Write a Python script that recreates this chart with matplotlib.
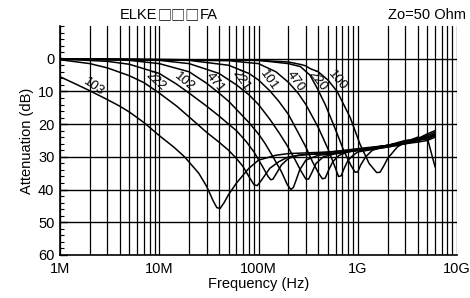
import matplotlib
matplotlib.use("Agg")
import matplotlib.pyplot as plt
import numpy as np

plt.rcParams['font.family'] = ['Liberation Sans', 'DejaVu Sans']

# frequencies in MHz, attenuation in dB
f_103 = [1, 1.5, 2, 3, 4, 5, 7, 10, 14, 18, 25, 30, 35, 38, 41, 45, 50, 60, 80, 100, 150, 200, 300, 500, 1000, 2000, 3000, 4000, 5000, 6000]
a_103 = [5.5, 8, 9.8, 12.5, 14.5, 16.3, 19.5, 23.5, 27, 30, 35, 39, 43.5, 45.5, 45.8, 44, 41.5, 38, 33.5, 31, 29.5, 29, 28.8, 28.5, 27.8, 26.5, 25.5, 24.5, 23.5, 22.5]

f_222 = [1, 2, 3, 5, 7, 10, 15, 20, 30, 40, 50, 60, 70, 80, 90, 97, 105, 115, 130, 160, 200, 300, 500, 1000, 2000, 3000, 4000, 5000, 6000]
a_222 = [0.3, 1.5, 2.8, 5.2, 7.3, 10.5, 14.5, 17.8, 22.5, 25.5, 28, 30.5, 33, 36, 38.5, 38.8, 37.5, 35.8, 33.5, 31.5, 30, 29.3, 29, 28, 26.5, 25.5, 24.5, 24, 23]

f_102 = [1, 3, 5, 10, 15, 20, 30, 40, 50, 60, 76, 90, 110, 125, 133, 140, 150, 170, 200, 250, 400, 1000, 2000, 3000, 4000, 5000, 6000]
a_102 = [0.1, 0.8, 1.7, 4.5, 7.8, 10.5, 14.5, 17.5, 20, 22, 25.5, 28.5, 33, 36, 37, 36.8, 35.3, 32.5, 30.5, 29.5, 29, 27.5, 26.5, 25.5, 25, 24.5, 23.5]

f_471 = [1, 5, 10, 20, 30, 40, 50, 60, 80, 100, 117, 140, 170, 195, 212, 225, 240, 260, 300, 400, 600, 1000, 2000, 3000, 4000, 5000, 6000]
a_471 = [0, 0.5, 1.5, 4, 7.5, 10.5, 13, 15.5, 19.5, 23, 26, 30, 34.5, 38.5, 40, 39.3, 37, 34, 31, 29.5, 29, 28, 26.5, 25, 24.5, 23, 22]

f_221 = [1, 10, 20, 40, 60, 80, 100, 130, 160, 194, 230, 270, 300, 320, 345, 380, 450, 600, 1000, 2000, 3000, 4000, 5000, 6000]
a_221 = [0, 0.5, 1.5, 4.5, 8, 11, 14, 18.5, 22.5, 26.5, 30.5, 34.5, 36.8, 36.8, 34.8, 32, 30, 29, 28, 27, 26, 25, 24, 23]

f_101 = [1, 20, 50, 80, 100, 130, 160, 200, 250, 300, 350, 400, 440, 470, 510, 560, 650, 800, 1000, 2000, 3000, 4000, 5000, 6000]
a_101 = [0, 0.5, 2, 4.5, 6.5, 9.8, 13, 17, 22.5, 27, 31.5, 34.8, 36.7, 36.5, 34, 31.5, 29.5, 28.5, 28, 26.5, 25.5, 24, 24.5, 23.5]

f_470 = [1, 50, 100, 150, 200, 250, 300, 400, 500, 580, 640, 680, 730, 800, 900, 1000, 2000, 3000, 4000, 5000, 6000]
a_470 = [0, 0.6, 1.5, 4, 7.2, 10.5, 14, 21, 27.5, 32.5, 36, 35.8, 33.5, 31, 29.5, 28.5, 27, 26, 25.5, 25, 24]

f_220 = [1, 100, 200, 264, 330, 390, 470, 550, 650, 720, 850, 940, 1000, 1070, 1200, 1400, 2000, 3000, 4000, 5000, 6000]
a_220 = [0, 0.5, 1.5, 2.4, 5, 9, 14, 19, 24.5, 28, 32.5, 34.7, 34.6, 32.5, 30, 28, 26.5, 25.5, 25, 24, 23.5]

f_100 = [1, 100, 200, 270, 300, 330, 400, 500, 620, 840, 1050, 1300, 1550, 1680, 1850, 2000, 2500, 3000, 4000, 5000, 6000]
a_100 = [0, 0.5, 1, 1.8, 2.2, 3, 4, 6.5, 10, 18, 26, 32, 34.8, 34.7, 32.5, 30.5, 27, 25.5, 24.5, 24, 33]

curve_names = ["103", "222", "102", "471", "221", "101", "470", "220", "100"]
curve_f = [f_103, f_222, f_102, f_471, f_221, f_101, f_470, f_220, f_100]
curve_a = [a_103, a_222, a_102, a_471, a_221, a_101, a_470, a_220, a_100]

# label positions (MHz, dB)
label_f = [2.17, 9.1, 17.8, 36.6, 66.6, 126, 235, 390, 620]
label_a = [8.7, 7.0, 7.2, 7.2, 6.7, 6.7, 7.0, 6.7, 6.7]
label_rot = [-35, -42, -40, -50, -55, -55, -55, -52, -50]

x_ticks = [1e6, 1e7, 1e8, 1e9, 1e10]
x_ticklabels = ["1M", "10M", "100M", "1G", "10G"]
y_ticks = [0, 10, 20, 30, 40, 50, 60]

fig = plt.figure(figsize=(4.70, 2.98), dpi=100)
ax = fig.add_axes([60/470, 1-255/298, 397/470, 229/298])

ax.set_xscale('log')
ax.set_xlim(1e6, 1e10)
ax.set_ylim(60, -10)

# grid
for dec in [1e6, 1e7, 1e8, 1e9]:
    for m in range(1, 10):
        ax.axvline(dec*m, color='black', lw=0.9, zorder=1)
ax.axvline(1e10, color='black', lw=0.9, zorder=1)
for y in [0, 10, 20, 30, 40, 50]:
    ax.axhline(y, color='black', lw=1.0, zorder=1)

for f, a in zip(curve_f, curve_a):
    ax.plot(np.array(f)*1e6, a, color='black', lw=1.1, zorder=3)

for name, lf, la, rot in zip(curve_names, label_f, label_a, label_rot):
    ax.text(lf*1e6, la, name, rotation=rot, ha='center', va='center', fontsize=9.5,
            rotation_mode='anchor', zorder=4)

ax.set_xticks(x_ticks)
ax.set_xticklabels(x_ticklabels)
ax.xaxis.set_minor_locator(matplotlib.ticker.NullLocator())
ax.set_yticks(y_ticks)
ax.set_yticks(np.arange(-10, 61, 2), minor=True)
ax.tick_params(axis='y', which='major', direction='in', length=5, width=1, labelsize=10.5, pad=4)
ax.tick_params(axis='y', which='minor', direction='in', length=3, width=0.8)
ax.tick_params(axis='x', which='major', length=0, labelsize=10.5, pad=5)
for s in ['top', 'right']:
    ax.spines[s].set_visible(False)
ax.spines['left'].set_linewidth(1.2)
ax.spines['bottom'].set_linewidth(1.2)

ax.set_xlabel("Frequency (Hz)", fontsize=10.5, labelpad=1)
ax.set_ylabel("Attenuation (dB)", fontsize=10.5, labelpad=3)

ty = 1 - 15/298
fig.text(157/470, ty, "ELKE", ha='right', va='center', fontsize=10.5)
fig.text(178.5/470, ty, "\u25a1\u25a1\u25a1", ha='center', va='center', fontsize=10.2,
         family=['Noto Sans CJK JP'])
fig.text(200/470, ty, "FA", ha='left', va='center', fontsize=10.5)
fig.text(466/470, ty, "Zo=50 Ohm", ha='right', va='center', fontsize=10.5)

fig.savefig("out.png", dpi=100)
